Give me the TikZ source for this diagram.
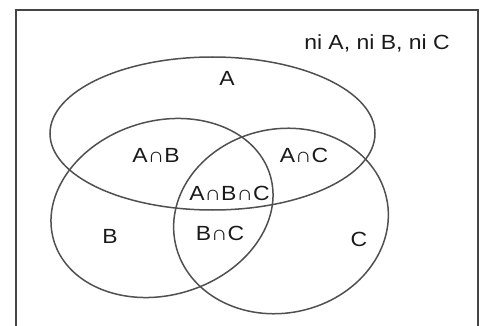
\documentclass[tikz,border=0pt]{standalone}
\usepackage{fontspec}
\setmainfont[FakeStretch=1.12]{Liberation Sans}
\definecolor{framegray}{HTML}{454545}
\definecolor{setgray}{HTML}{505050}
\definecolor{textcol}{HTML}{1A1A1A}
\begin{document}
\begin{tikzpicture}[x=1pt,y=1pt,
  setline/.style={draw=setgray,line width=1.5pt},
  frameline/.style={draw=framegray,line width=2.4pt},
  lbl/.style={inner sep=0pt,text=textcol,font=\fontsize{20.5}{24}\selectfont}]
\useasboundingbox (0,0) rectangle (482,-326);
% universe frame (bottom edge lies outside the picture)
\draw[frameline] (16,-340) -- (16,-10) -- (478,-10) -- (478,-340);
% sets
\draw[setline] (212.5,-133.5) ellipse [x radius=162.5pt, y radius=76.5pt];
\draw[setline,rotate around={17:(162,-208)}] (162,-208) ellipse [x radius=113pt, y radius=87pt];
\draw[setline,rotate around={12:(281,-221)}] (281,-221) ellipse [x radius=108pt, y radius=92pt];
% labels
\node[lbl] (none) at (377,-43) {ni A, ni B, ni C};
\node[lbl] (a) at (227,-78) {A};
\node[lbl] (ab) at (156,-155) {A∩B};
\node[lbl] (ac) at (304,-155) {A∩C};
\node[lbl] (abc) at (229.5,-193) {A∩B∩C};
\node[lbl] (b) at (110,-236) {B};
\node[lbl] (bc) at (220,-233) {B∩C};
\node[lbl] (c) at (359,-239) {C};
\end{tikzpicture}
\end{document}
